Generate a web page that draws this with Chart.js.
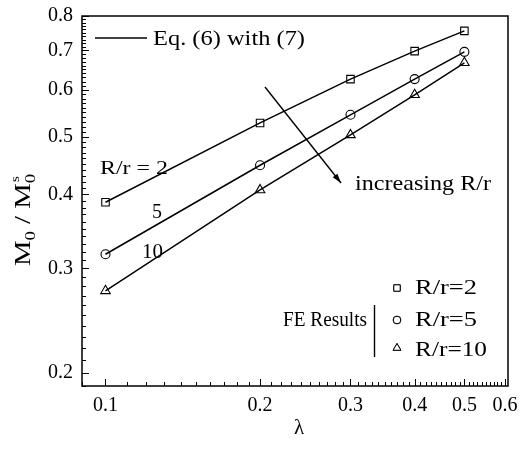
<!DOCTYPE html>
<html>
<head>
<meta charset="utf-8">
<script src="https://cdn.jsdelivr.net/npm/chart.js@4"></script>
<style>
  html, body { margin: 0; padding: 0; background: #fff; }
  #wrap { width: 521px; height: 453px; }
</style>
</head>
<body>
<div id="wrap"><canvas id="chart" width="521" height="453"></canvas></div>
<script>
// ==== Data ====
var lambda = [0.1, 0.2, 0.3, 0.4, 0.5]
// Eq. (6) with (7) curves
var eqR2 = [0.388, 0.528, 0.626, 0.698, 0.755]
var eqR5 = [0.317, 0.448, 0.545, 0.626, 0.696]
var eqR10 = [0.275, 0.407, 0.504, 0.589, 0.667]
// FE results
var feR2 = [0.388, 0.528, 0.626, 0.698, 0.755]
var feR5 = [0.317, 0.448, 0.545, 0.626, 0.696]
var feR10 = [0.275, 0.407, 0.504, 0.589, 0.667]

var xTickLabels = ['0.1', '0.2', '0.3', '0.4', '0.5', '0.6']
var yTickLabels = ['0.2', '0.3', '0.4', '0.5', '0.6', '0.7', '0.8']

var SERIF = '"Liberation Serif", "Times New Roman", serif'

function pts(ys) {
    return lambda.map(function (x, i) { return { x: x, y: ys[i] } })
}

function isLabelled(v, labels) {
    return Math.abs(v * 10 - Math.round(v * 10)) < 1e-9 && labels.indexOf(Number(v).toFixed(1)) >= 0
}

// minor ticks every 0.01, majors at the labelled values
function buildTicks(lo, hi, labels) {
    var out = []
    for (var k = Math.round(lo * 100); k <= Math.floor(hi * 100 + 1e-9); k++) {
        var v = k / 100
        out.push({ value: v, major: isLabelled(v, labels) })
    }
    return out
}

function lineSet(ys) {
    return {
        data: pts(ys),
        borderColor: '#000',
        borderWidth: 1.5,
        pointRadius: 0,
        fill: false,
        tension: 0
    }
}
function markSet(ys, style, r) {
    return {
        data: pts(ys),
        showLine: false,
        pointStyle: style,
        pointRadius: r,
        pointBorderColor: '#000',
        pointBackgroundColor: '#fff',
        pointBorderWidth: 1.1
    }
}

// text squeezed/stretched to the width it has in the figure
function txt(ctx, s, x, y, size, w) {
    ctx.font = size + 'px ' + SERIF
    var k = w ? w / ctx.measureText(s).width : 1
    ctx.save()
    ctx.translate(x, y)
    ctx.scale(k, 1)
    ctx.fillText(s, 0, 0)
    ctx.restore()
}

// === Plugin: inward ticks, frame, annotations ===
var decor = {
    id: 'decor',
    afterDraw: function (chart) {
        var ctx = chart.ctx
        var a = chart.chartArea
        var xs = chart.scales.x, ys = chart.scales.y
        ctx.save()
        ctx.strokeStyle = '#000'
        ctx.lineWidth = 1

        // inward ticks
        xs.ticks.forEach(function (t) {
            var px = Math.round(xs.getPixelForValue(t.value)) + 0.5
            var len = t.major ? 7 : 4
            ctx.beginPath(); ctx.moveTo(px, a.bottom); ctx.lineTo(px, a.bottom - len); ctx.stroke()
        })
        ys.ticks.forEach(function (t) {
            var py = Math.round(ys.getPixelForValue(t.value)) + 0.5
            var len = t.major ? 7 : 4
            ctx.beginPath(); ctx.moveTo(a.left, py); ctx.lineTo(a.left + len, py); ctx.stroke()
        })

        // frame
        ctx.lineWidth = 1.5
        ctx.strokeRect(a.left, a.top, a.right - a.left, a.bottom - a.top)

        ctx.fillStyle = '#000'
        ctx.textBaseline = 'middle'
        ctx.textAlign = 'left'

        // legend for the curves
        ctx.lineWidth = 1.5
        ctx.beginPath(); ctx.moveTo(95, 38); ctx.lineTo(147, 38); ctx.stroke()
        txt(ctx, 'Eq. (6) with (7)', 153, 39, 21, 152)

        // curve labels
        txt(ctx, 'R/r = 2', 100, 169, 19, 68)
        txt(ctx, '5', 152, 213, 20)
        txt(ctx, '10', 142, 253, 20, 21)

        // arrow
        ctx.lineWidth = 1.4
        ctx.beginPath(); ctx.moveTo(265, 87); ctx.lineTo(341, 183); ctx.stroke()
        var ang = Math.atan2(183 - 87, 341 - 265)
        ctx.beginPath()
        ctx.moveTo(341, 183)
        ctx.lineTo(341 - 10 * Math.cos(ang - 0.3), 183 - 10 * Math.sin(ang - 0.3))
        ctx.lineTo(341 - 10 * Math.cos(ang + 0.3), 183 - 10 * Math.sin(ang + 0.3))
        ctx.closePath(); ctx.fill()
        txt(ctx, 'increasing R/r', 355, 184, 21, 136)

        // FE legend
        txt(ctx, 'FE Results', 283, 321, 20, 84)
        ctx.lineWidth = 1.4
        ctx.beginPath(); ctx.moveTo(374.5, 305); ctx.lineTo(374.5, 357); ctx.stroke()
        ctx.lineWidth = 1
        ctx.fillStyle = '#fff'
        Chart.helpers.drawPoint(ctx, { pointStyle: 'rect', radius: 4.5, borderWidth: 1 }, 397, 288)
        ctx.fill(); ctx.stroke()
        Chart.helpers.drawPoint(ctx, { pointStyle: 'circle', radius: 3.8, borderWidth: 1 }, 397, 320)
        ctx.fill(); ctx.stroke()
        Chart.helpers.drawPoint(ctx, { pointStyle: 'triangle', radius: 4.5, borderWidth: 1 }, 397, 348)
        ctx.fill(); ctx.stroke()
        ctx.fillStyle = '#000'
        txt(ctx, 'R/r=2', 415, 289, 20, 62)
        txt(ctx, 'R/r=5', 415, 321, 20, 62)
        txt(ctx, 'R/r=10', 415, 351, 20, 72)

        // x title
        ctx.textAlign = 'center'
        ctx.font = '21px ' + SERIF
        ctx.fillText('\u03bb', 299, 428)

        // y title: M0 / M0^s, rotated
        ctx.save()
        ctx.translate(30, 220)
        ctx.rotate(-Math.PI / 2)
        ctx.textAlign = 'left'
        ctx.textBaseline = 'alphabetic'
        var big = '23px ' + SERIF, sub = '15px ' + SERIF, sup = '12px ' + SERIF
        ctx.font = big; var wM = ctx.measureText('M').width
        var wSl = ctx.measureText(' / M').width
        ctx.font = sub; var w0 = ctx.measureText('0').width
        var total = wM + w0 + wSl + w0
        var k = 92 / total
        ctx.scale(k, 1)
        var u = -total / 2
        ctx.font = big; ctx.fillText('M', u, 0); u += wM
        ctx.font = sub; ctx.fillText('0', u, 5); u += w0
        ctx.font = big; ctx.fillText(' / M', u, 0); u += wSl
        ctx.font = sub; ctx.fillText('0', u, 5)
        ctx.font = sup; ctx.fillText('s', u + 1, -11)
        ctx.restore()

        ctx.restore()
    }
}

var ctx = document.getElementById('chart').getContext('2d')
new Chart(ctx, {
    type: 'line',
    data: {
        datasets: [
            lineSet(eqR2), lineSet(eqR5), lineSet(eqR10),
            markSet(feR2, 'rect', 5.3), markSet(feR5, 'circle', 4.5), markSet(feR10, 'triangle', 5.5)
        ]
    },
    options: {
        responsive: false,
        animation: false,
        layout: { padding: { top: 16, right: 13, left: 0, bottom: 0 } },
        plugins: { legend: false, tooltip: { enabled: false } },
        scales: {
            x: {
                type: 'logarithmic',
                min: 0.09,
                max: 0.608,
                afterBuildTicks: function (s) { s.ticks = buildTicks(0.09, 0.608, xTickLabels) },
                afterFit: function (s) { s.height = 67 },
                grid: { display: false },
                border: { display: false },
                ticks: {
                    autoSkip: false,
                    maxRotation: 0,
                    padding: 0,
                    color: '#000',
                    font: { family: SERIF, size: 20 },
                    callback: function (v) { return isLabelled(v, xTickLabels) ? Number(v).toFixed(1) : '' }
                }
            },
            y: {
                type: 'logarithmic',
                min: 0.19,
                max: 0.8,
                afterBuildTicks: function (s) { s.ticks = buildTicks(0.19, 0.8, yTickLabels) },
                afterFit: function (s) { s.width = 82 },
                grid: { display: false },
                border: { display: false },
                ticks: {
                    autoSkip: false,
                    padding: 1,
                    color: '#000',
                    font: { family: SERIF, size: 20 },
                    callback: function (v) { return isLabelled(v, yTickLabels) ? Number(v).toFixed(1) : '' }
                }
            }
        }
    },
    plugins: [decor]
})
</script>
</body>
</html>
